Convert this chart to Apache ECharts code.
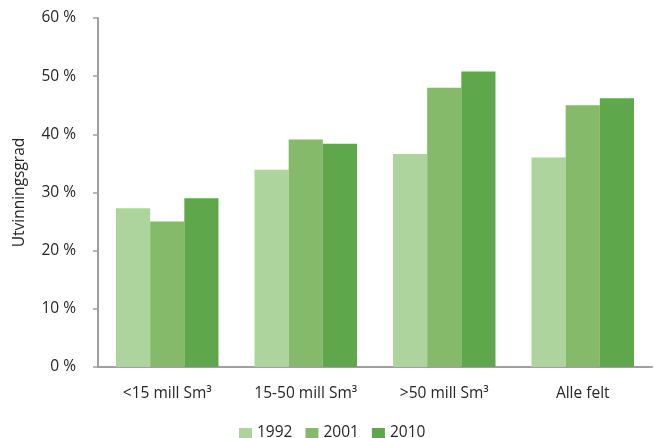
<!DOCTYPE html>
<html>
<head>
<meta charset="utf-8">
<script src="https://cdn.jsdelivr.net/npm/echarts@6/dist/echarts.min.js"></script>
<style>
  html, body { margin: 0; padding: 0; background: #fff; }
  #chart { width: 654px; height: 438px; }
</style>
</head>
<body>
<div id="chart"></div>
<script>
// Utvinningsgrad (recovery factor) by field size class
const categories = ['<15 mill Sm³', '15-50 mill Sm³', '>50 mill Sm³', 'Alle felt'];
const years = ['1992', '2001', '2010'];
const values1992 = [27.3, 33.9, 36.6, 36.0];
const values2001 = [25.0, 39.1, 48.0, 45.0];
const values2010 = [29.0, 38.4, 50.8, 46.2];
const yTicks = { min: 0, max: 60, step: 10 };

const colors = ['#AED49E', '#84BA6A', '#5EA84B'];
const seriesValues = [values1992, values2001, values2010];
const font = '"Open Sans", Lato, sans-serif';
const fontSize = 15.5;
const axisGrey = '#A0A0A0';
const textColor = '#262626';

const chart = echarts.init(document.getElementById('chart'), null, { renderer: 'canvas' });

chart.setOption({
  animation: false,
  backgroundColor: '#ffffff',
  textStyle: { fontFamily: font, color: textColor },
  grid: { left: 98, right: 2, top: 18, bottom: 71, containLabel: false },
  legend: {
    data: years,
    left: 234,
    top: 420,
    itemWidth: 13,
    itemHeight: 10,
    itemGap: 13,
    icon: 'rect',
    textStyle: { fontFamily: font, fontSize: fontSize, color: textColor }
  },
  xAxis: {
    type: 'category',
    data: categories,
    axisLine: { show: true, lineStyle: { color: axisGrey, width: 2 } },
    axisTick: { show: false },
    axisLabel: { fontFamily: font, fontSize: fontSize, color: textColor, margin: 19 },
    splitLine: { show: false }
  },
  yAxis: {
    type: 'value',
    min: yTicks.min,
    max: yTicks.max,
    interval: yTicks.step,
    name: 'Utvinningsgrad',
    nameLocation: 'middle',
    nameGap: 70,
    nameRotate: 90,
    nameTextStyle: { fontFamily: font, fontSize: fontSize, color: textColor },
    axisLine: { show: true, lineStyle: { color: axisGrey, width: 2 } },
    axisTick: { show: true, length: 5, inside: false, lineStyle: { color: axisGrey, width: 1.5 } },
    axisLabel: { fontFamily: font, fontSize: fontSize, color: textColor, margin: 22, formatter: '{value} %' },
    splitLine: { show: false }
  },
  series: years.map((y, i) => ({
    name: y,
    type: 'bar',
    data: seriesValues[i],
    barGap: '0%',
    barCategoryGap: '26%',
    itemStyle: { color: colors[i] }
  }))
});
</script>
</body>
</html>
